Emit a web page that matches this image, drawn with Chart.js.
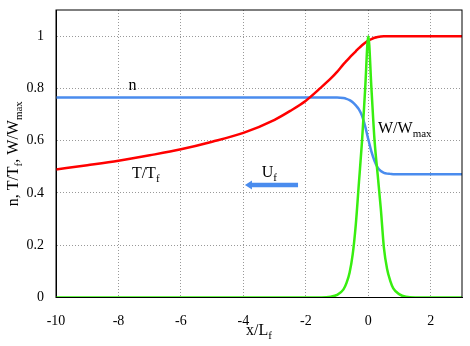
<!DOCTYPE html>
<html>
<head>
<meta charset="utf-8">
<script src="https://cdn.jsdelivr.net/npm/chart.js@4.4.0/dist/chart.umd.min.js"></script>
<style>
html, body { margin: 0; padding: 0; background: #fff; }
#wrap { width: 470px; height: 346px; }
</style>
</head>
<body>
<div id="wrap"><canvas id="profile-chart" width="470" height="346"></canvas></div>
<script>
// valeurs
const xs = [-10, -9, -8, -7, -6, -5, -4, -3, -2.5, -2, -1.5, -1.2, -1, -0.8, -0.7, -0.6, -0.5, -0.4, -0.3, -0.2, -0.1,
            0, 0.1, 0.2, 0.3, 0.4, 0.5, 0.6, 0.7, 0.8, 1, 1.2, 1.5, 2, 3];
const tempValues = [0.49, 0.506, 0.523, 0.544, 0.567, 0.596, 0.63, 0.68, 0.714, 0.753, 0.805, 0.838, 0.863, 0.892, 0.905, 0.918, 0.93, 0.942, 0.954, 0.965, 0.975,
                    0.983, 0.989, 0.994, 0.997, 0.999, 1, 1, 1, 1, 1, 1, 1, 1, 1];
const nValues = [0.765, 0.765, 0.765, 0.765, 0.765, 0.765, 0.765, 0.765, 0.765, 0.765, 0.765, 0.765, 0.765, 0.763, 0.76, 0.755, 0.747, 0.735, 0.72, 0.695, 0.655,
                 0.605, 0.558, 0.522, 0.497, 0.484, 0.477, 0.474, 0.473, 0.472, 0.472, 0.472, 0.472, 0.472, 0.472];
const wValues = [0, 0, 0, 0, 0, 0, 0, 0, 0, 0, 0, 0.003, 0.01, 0.03, 0.055, 0.095, 0.165, 0.28, 0.44, 0.6, 0.8,
                 1, 0.8, 0.6, 0.47, 0.34, 0.19, 0.11, 0.065, 0.035, 0.012, 0.003, 0, 0, 0];
const xTicks = [-10, -8, -6, -4, -2, 0, 2];
const yTicks = [0, 0.2, 0.4, 0.6, 0.8, 1];

const serif = '"Liberation Serif", "DejaVu Serif", serif';
const mainFont = '16px ' + serif;
const subFont = '11px ' + serif;
const blue = '#4a8cee';

function toPoints(values) {
    return xs.map((x, i) => ({ x: x, y: values[i] }));
}

// texte avec indices
function drawRich(ctx, parts, x, y, align) {
    const widths = parts.map(p => {
        ctx.font = p.sub ? subFont : mainFont;
        return ctx.measureText(p.t).width;
    });
    const total = widths.reduce((s, w) => s + w, 0);
    let cx = align === 'center' ? x - total / 2 : x;
    parts.forEach((p, i) => {
        ctx.font = p.sub ? subFont : mainFont;
        ctx.fillText(p.t, cx, p.sub ? y + 4 : y);
        cx += widths[i];
    });
}

const annotations = {
    id: 'annotations',
    afterDraw(chart) {
        const ctx = chart.ctx;
        const a = chart.chartArea;
        const sx = chart.scales.x;
        const sy = chart.scales.y;
        ctx.save();
        ctx.strokeStyle = '#000';
        ctx.lineWidth = 1;
        ctx.strokeRect(a.left, a.top, a.right - a.left, a.bottom - a.top);

        ctx.fillStyle = '#000';
        ctx.textAlign = 'left';
        ctx.textBaseline = 'alphabetic';
        drawRich(ctx, [{ t: 'n' }], sx.getPixelForValue(-7.55), sy.getPixelForValue(0.793), 'center');
        drawRich(ctx, [{ t: 'T/T' }, { t: 'f', sub: true }], sx.getPixelForValue(-7.57), sy.getPixelForValue(0.456), 'left');
        drawRich(ctx, [{ t: 'U' }, { t: 'f', sub: true }], sx.getPixelForValue(-3.41), sy.getPixelForValue(0.46), 'left');
        drawRich(ctx, [{ t: 'W/W' }, { t: 'max', sub: true }], sx.getPixelForValue(0.31), sy.getPixelForValue(0.628), 'left');

        // fleche U_f
        const x0 = sx.getPixelForValue(-2.25);
        const x1 = sx.getPixelForValue(-3.95);
        const ya = sy.getPixelForValue(0.43);
        ctx.strokeStyle = blue;
        ctx.fillStyle = blue;
        ctx.lineWidth = 4.5;
        ctx.beginPath();
        ctx.moveTo(x0, ya);
        ctx.lineTo(x1 + 5, ya);
        ctx.stroke();
        ctx.beginPath();
        ctx.moveTo(x1, ya);
        ctx.lineTo(x1 + 7, ya - 4.5);
        ctx.lineTo(x1 + 7, ya + 4.5);
        ctx.closePath();
        ctx.fill();

        // titres des axes
        ctx.fillStyle = '#000';
        drawRich(ctx, [{ t: 'x/L' }, { t: 'f', sub: true }], (a.left + a.right) / 2, 335, 'center');
        ctx.translate(18, (a.top + a.bottom) / 2);
        ctx.rotate(-Math.PI / 2);
        drawRich(ctx, [{ t: 'n, T/T' }, { t: 'f', sub: true }, { t: ', W/W' }, { t: 'max', sub: true }], 0, 0, 'center');
        ctx.restore();
    }
};

const profileCtx = document.getElementById('profile-chart');
const chart = new Chart(profileCtx, {
    type: 'line',
    data: {
        datasets: [
            {
                label: 'W/Wmax',
                data: toPoints(wValues),
                borderColor: '#38ee10',
                borderWidth: 2.5
            },
            {
                label: 'T/Tf',
                data: toPoints(tempValues),
                borderColor: '#ff0000',
                borderWidth: 2.5
            },
            {
                label: 'n',
                data: toPoints(nValues),
                borderColor: blue,
                borderWidth: 2.5
            }
        ]
    },
    options: {
        responsive: false,
        animation: false,
        devicePixelRatio: 1,
        elements: {
            point: { radius: 0 },
            line: { cubicInterpolationMode: 'monotone', fill: false }
        },
        layout: {
            padding: { top: 10, right: 8, left: 0, bottom: 0 }
        },
        plugins: {
            legend: { display: false },
            tooltip: { enabled: false }
        },
        scales: {
            x: {
                type: 'linear',
                min: -10,
                max: 3,
                afterBuildTicks: function(scale) {
                    scale.ticks = xTicks.map(v => ({ value: v }));
                },
                afterFit: function(scale) {
                    scale.height = 48.5;
                    scale.paddingLeft = 0;
                    scale.paddingRight = 0;
                },
                ticks: {
                    color: '#000',
                    padding: 15,
                    maxRotation: 0,
                    font: { family: serif, size: 14 },
                    callback: function(value) {
                        return String(value);
                    }
                },
                grid: {
                    color: '#999',
                    drawTicks: false
                },
                border: {
                    display: true,
                    color: '#000',
                    dash: [1, 2]
                }
            },
            y: {
                min: 0,
                max: 1.1,
                afterBuildTicks: function(scale) {
                    scale.ticks = yTicks.map(v => ({ value: v }));
                },
                afterFit: function(scale) {
                    scale.width = 56;
                    scale.paddingTop = 0;
                    scale.paddingBottom = 0;
                },
                ticks: {
                    color: '#000',
                    padding: 12,
                    font: { family: serif, size: 14 },
                    callback: function(value) {
                        return String(+value.toFixed(2));
                    }
                },
                grid: {
                    color: '#999',
                    drawTicks: false
                },
                border: {
                    display: true,
                    color: '#000',
                    dash: [1, 2]
                }
            }
        }
    },
    plugins: [annotations]
});
</script>
</body>
</html>
